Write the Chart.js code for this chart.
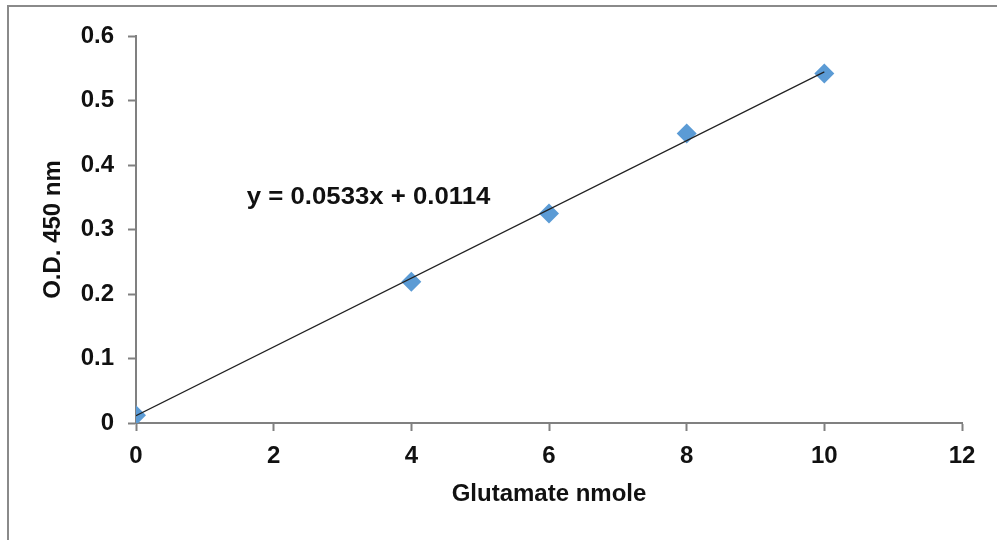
<!DOCTYPE html>
<html lang="en">

<head>
    <meta charset="UTF-8">
    <title>Glutamate Standard Curve</title>
    <script src="https://cdn.jsdelivr.net/npm/chart.js"></script>
    <style>
        body { margin: 0; background: #fff; }
        #wrap { position: relative; width: 997px; height: 540px; }
        #frame {
            position: absolute; left: 7px; top: 5px; right: 0; bottom: 0;
            border-top: 2px solid #8a8a8a; border-left: 2px solid #8a8a8a;
        }
        canvas { position: absolute; left: 0; top: 0; }
    </style>
</head>

<body>
    <div id="wrap">
        <div id="frame"></div>
        <canvas id="standardCurve" width="997" height="540"></canvas>
    </div>

    <script>
        // values
        const glutamateNmole = [0, 4, 6, 8, 10];
        const od450 = [0.012, 0.219, 0.325, 0.449, 0.542];

        // trendline end points (y = 0.0533x + 0.0114)
        const trendX = [0, 10];
        const trendY = [0.0114, 0.5444];
        const equationText = 'y = 0.0533x + 0.0114';
        const equationAt = [1.61, 0.349];

        const xMin = 0, xMax = 12, xStep = 2;
        const yMin = 0, yMax = 0.6, yStep = 0.1;

        const font = { family: '"Liberation Sans", Arial, sans-serif', weight: 'bold', size: 24 };
        const axisColor = '#808080';

        // equation text next to the trendline, a little wider like the original
        const equationLabel = {
            id: 'equationLabel',
            afterDatasetsDraw(chart) {
                const ctx = chart.ctx;
                const x = chart.scales.x.getPixelForValue(equationAt[0]);
                const y = chart.scales.y.getPixelForValue(equationAt[1]);
                ctx.save();
                ctx.font = 'bold 23px "Liberation Sans", Arial, sans-serif';
                ctx.fillStyle = '#111';
                ctx.textAlign = 'left';
                ctx.textBaseline = 'middle';
                ctx.translate(x, y);
                ctx.scale(1.12, 1);
                ctx.fillText(equationText, 0, 0);
                ctx.restore();
            }
        };

        const ctx = document.getElementById('standardCurve').getContext('2d');
        new Chart(ctx, {
            type: 'scatter',
            data: {
                datasets: [{
                    label: 'O.D. 450 nm',
                    data: glutamateNmole.map((x, i) => ({ x: x, y: od450[i] })),
                    pointStyle: 'rectRot',
                    pointRadius: 10,
                    pointBackgroundColor: '#5b9bd5',
                    pointBorderColor: '#5b9bd5',
                    pointBorderWidth: 0,
                    order: 2
                }, {
                    label: 'Linear',
                    data: trendX.map((x, i) => ({ x: x, y: trendY[i] })),
                    showLine: true,
                    borderColor: '#222',
                    borderWidth: 1.2,
                    pointRadius: 0,
                    order: 1
                }]
            },
            plugins: [equationLabel],
            options: {
                responsive: false,
                animation: false,
                layout: { padding: { top: 36, right: 35, left: 0, bottom: 0 } },
                plugins: {
                    legend: { display: false },
                    tooltip: { enabled: false }
                },
                scales: {
                    x: {
                        type: 'linear',
                        min: xMin,
                        max: xMax,
                        afterFit: scale => { scale.height = 117; },
                        ticks: { stepSize: xStep, color: '#111', font: font, padding: 11 },
                        grid: { drawOnChartArea: false, tickLength: 8, tickColor: axisColor, tickWidth: 2 },
                        border: { color: axisColor, width: 2 },
                        title: {
                            display: true,
                            text: 'Glutamate nmole',
                            color: '#111',
                            font: font,
                            padding: { top: 0, bottom: 31 }
                        }
                    },
                    y: {
                        min: yMin,
                        max: yMax,
                        afterFit: scale => { scale.width = 136; },
                        ticks: { stepSize: yStep, color: '#111', font: font, padding: 14 },
                        grid: { drawOnChartArea: false, tickLength: 8, tickColor: axisColor, tickWidth: 2 },
                        border: { color: axisColor, width: 2 },
                        title: {
                            display: true,
                            text: 'O.D. 450 nm',
                            color: '#111',
                            font: font,
                            padding: { top: 39, bottom: 0 }
                        }
                    }
                }
            }
        });
    </script>
</body>

</html>
